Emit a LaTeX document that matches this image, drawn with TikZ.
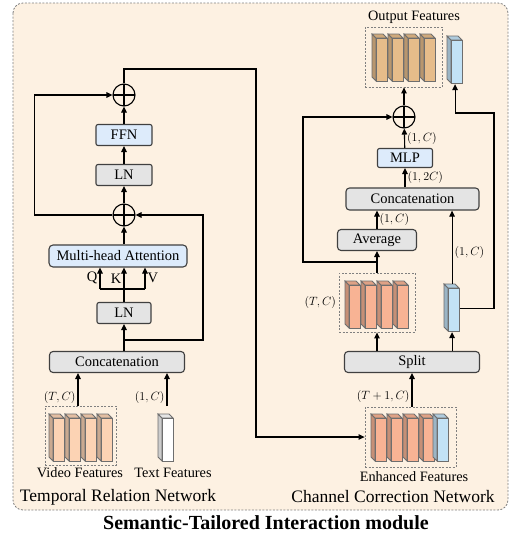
\documentclass[tikz,border=0pt]{standalone}
\usepackage{fontspec}
\setmainfont{Liberation Serif}
\usetikzlibrary{arrows.meta,positioning}

\definecolor{bgpeach}{HTML}{FDF1E2}
\definecolor{boxgray}{HTML}{E4E4E4}
\definecolor{boxblue}{HTML}{DDEBFB}
\definecolor{vidcol}{HTML}{FCD3B4}
\definecolor{salcol}{HTML}{F8B394}
\definecolor{tancol}{HTML}{E6BC8A}
\definecolor{barblue}{HTML}{C2E2F6}
\definecolor{edgegray}{HTML}{6E6E6E}

\newcommand\boxfnt{\fontsize{14.5}{16}\selectfont}
\newcommand\dimfnt{\fontsize{12.5}{14}\selectfont}
\newcommand\capfnt{\fontsize{14.3}{16}\selectfont}
\newcommand\netfnt{\fontsize{17.5}{19}\selectfont}
\newcommand\ttlfnt{\fontsize{20}{22}\selectfont\bfseries}

% one 3D feature column: name, x, y (top left), colour
\newcommand\featbar[4]{%
  \filldraw[draw=edgegray, line width=0.8pt, fill=#4!80!black] (#2,#3) -- (#2+4,#3+4) -- (#2+4,#3+47) -- (#2,#3+43) -- cycle;
  \filldraw[draw=edgegray, line width=0.8pt, fill=#4!90!black] (#2,#3) -- (#2+11,#3) -- (#2+15,#3+4) -- (#2+4,#3+4) -- cycle;
  \filldraw[draw=edgegray, line width=0.8pt, fill=#4] (#2+4,#3+4) rectangle (#2+15,#3+47);
  \node (#1)[inner sep=0pt, minimum width=15pt, minimum height=47pt, anchor=north west] at (#2,#3) {};
}

\begin{document}
\begin{tikzpicture}[x=1pt, y=-1pt, line width=1.1pt, >={Triangle[length=6pt,width=5.5pt]},
  graybox/.style={draw=black!75, fill=boxgray, rounded corners=2pt, minimum height=21pt, inner sep=0pt, font=\boxfnt},
  bluebox/.style={graybox, fill=boxblue},
  sum/.style={draw, circle, minimum size=22pt, inner sep=0pt,
    path picture={\draw (path picture bounding box.north) -- (path picture bounding box.south)
      (path picture bounding box.west) -- (path picture bounding box.east);}},
  featbox/.style={draw=gray, dash pattern=on 2pt off 1.5pt, line width=0.8pt, inner sep=0pt},
  dim/.style={font=\dimfnt, inner sep=2pt}]
\useasboundingbox (0,0) rectangle (510,539);
\draw[draw=gray, fill=bgpeach, dash pattern=on 2pt off 1.5pt, line width=0.8pt, rounded corners=10pt] (13,3) rectangle (508,510);

% temporal relation network
\node (vidbox)[featbox, minimum width=71pt, minimum height=59pt] at (80.5,435.5) {};
\foreach \i in {0,...,3} {\featbar{v\i}{49+16*\i}{414}{vidcol}}
\featbar{txt}{158}{414}{white}
\node (vidlbl)[font=\capfnt] at (80,473) {Video Features};
\node (txtlbl)[font=\capfnt] at (173,473) {Text Features};

\node (cat1)[graybox, minimum width=135pt, rounded corners=3.5pt] at (117,362) {Concatenation};
\node (ln1) [graybox, minimum width=54pt] at (124,313) {LN};
\node (mha) [bluebox, minimum width=138pt, minimum height=22pt, rounded corners=4pt] at (118,256) {Multi-head Attention};
\node (add1)[sum] at (124,215) {};
\node (ln2) [graybox, minimum width=56pt] at (124,175) {LN};
\node (ffn) [bluebox, minimum width=56pt] at (124,135) {FFN};
\node (add2)[sum] at (124,95) {};

\coordinate (br1) at (124,340);
\coordinate (qkv) at (124,289);
\coordinate (q) at (100,289);
\coordinate (v) at (145,289);

\draw[->] (vidbox.north -| 78,0) -- (cat1.south -| 78,0) node[dim, pos=0.25, left] {$(T,C)$};
\draw[->] (txt.north -| 167,0) ++(0,-8) -- (cat1.south -| 167,0) node[dim, pos=0.25, left] {$(1,C)$};
\draw[->] (cat1.north -| ln1) -- (ln1);
\draw[->] (br1) -- ++(79,0) |- (add1);
\draw (ln1.north) -- (qkv);
\draw (q) -- (v);
\draw[->] (q) -- (q |- mha.south) node[midway, left, font=\boxfnt, inner sep=2pt] {Q};
\draw[->] (qkv) -- (qkv |- mha.south) node[midway, left, font=\boxfnt, inner sep=2pt] {K};
\draw[->] (v) -- (v |- mha.south) node[midway, right, font=\boxfnt, inner sep=2pt] {V};
\draw[->] (mha.north -| add1) -- (add1);
\draw[->] (add1) -- (ln2);
\draw[->] (ln2) -- (ffn);
\draw[->] (ffn) -- (add2);
\draw[->] (add1.west) -- ++(-78,0) |- (add2);

% channel correction network
\node (enhbox)[featbox, minimum width=91pt, minimum height=60pt] at (410.5,437) {};
\foreach \i in {0,...,3} {\featbar{e\i}{371+16*\i}{414}{salcol}}
\featbar{eb}{433}{414}{barblue}
\node (enhlbl)[font=\capfnt] at (414,477) {Enhanced Features};

\node (split)[graybox, minimum width=135pt, rounded corners=3.5pt] at (412,362) {Split};
\node (tcbox)[featbox, minimum width=76pt, minimum height=59pt] at (377,302.5) {};
\foreach \i in {0,...,3} {\featbar{t\i}{345+16*\i}{281}{salcol}}
\featbar{midbar}{444}{284}{barblue}
\node (avg) [graybox, minimum width=79pt, rounded corners=3.5pt] at (377,240) {Average};
\node (cat2)[graybox, minimum width=133pt, minimum height=22pt, rounded corners=3.5pt] at (412.5,199) {Concatenation};
\node (mlp) [bluebox, minimum width=55pt, minimum height=19pt] at (405,158) {MLP};
\node (add3)[sum] at (404,117) {};

\node (outbox)[featbox, minimum width=77pt, minimum height=60pt] at (403.5,57) {};
\foreach \i in {0,...,3} {\featbar{o\i}{372+16*\i}{34}{tancol}}
\featbar{outbar}{447}{36}{barblue}
\node (outlbl)[font=\capfnt] at (414,17) {Output Features};

\coordinate (br2) at (377,262);
\coordinate (c1) at (494,113);

\draw[->] (add2.north) |- (256,69) |- (enhbox.west);
\draw[->] (enhbox.north -| split) -- (split) node[dim, pos=0.3, left] {$(T+1,C)$};
\draw[->] (split.north -| tcbox) -- (tcbox.south);
\draw[->] (split.north -| midbar) -- (midbar.south);
\node (tclbl)[dim, left] at (tcbox.west) {$(T,C)$};
\draw[->] (tcbox.north) -- (avg.south);
\draw[->] (br2) -- ++(-74,0) |- (add3);
\draw[->] (avg.north) -- (avg.north |- cat2.south) node[dim, midway, right] {$(1,C)$};
\draw[->] (midbar.north) -- (midbar.north |- cat2.south) node[dim, pos=0.43, right] {$(1,C)$};
\draw[->] (cat2.north -| mlp) -- (mlp) node[dim, midway, right] {$(1,2C)$};
\draw[->] (mlp) -- (add3) node[dim, midway, right] {$(1,C)$};
\draw[->] (add3) -- (outbox.south -| add3);
\draw[->] (midbar.east) -| (c1) -| (outbar.south);

% captions
\node (tmpnet)[font=\netfnt] at (118,497) {Temporal Relation Network};
\node (chnet)[font=\netfnt] at (393,497) {Channel Correction Network};
\node (title)[font=\ttlfnt] at (266,523) {Semantic-Tailored Interaction module};
\end{tikzpicture}
\end{document}
